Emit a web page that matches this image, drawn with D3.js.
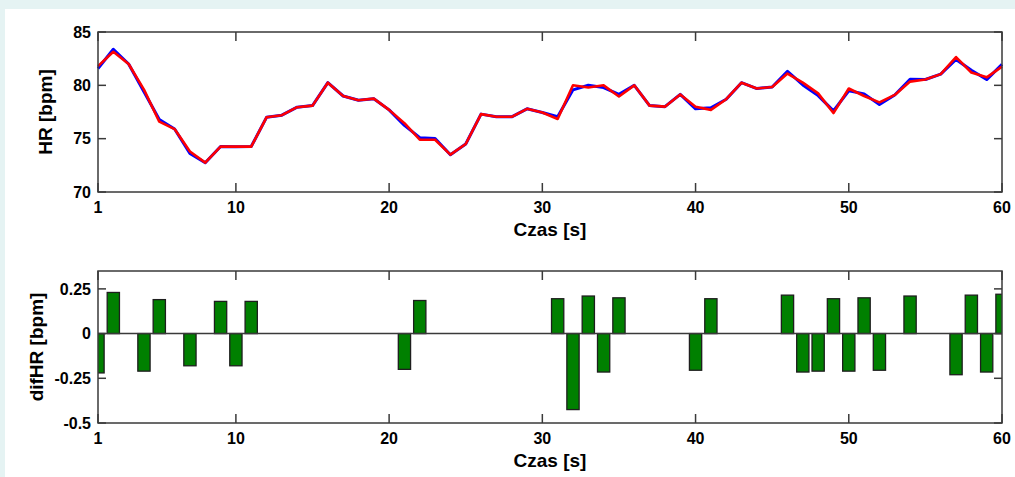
<!DOCTYPE html>
<html>
<head>
<meta charset="utf-8">
<script src="https://cdn.jsdelivr.net/npm/d3@7"></script>
<style>
  body { margin: 0; background: #e5f3f3; }
  svg { display: block; font-family: "Liberation Sans", Arial, sans-serif; }
</style>
</head>
<body>
<div id="vis"></div>
<script>
// seconds
const time = [1,2,3,4,5,6,7,8,9,10,11,12,13,14,15,16,17,18,19,20,
  21,22,23,24,25,26,27,28,29,30,31,32,33,34,35,36,37,38,39,40,
  41,42,43,44,45,46,47,48,49,50,51,52,53,54,55,56,57,58,59,60];

// HR, blue trace
const hrBlue = [81.58,83.38,82.0,79.39,76.79,75.9,73.62,72.75,74.27,74.25,
  74.27,77.0,77.2,77.95,78.1,80.25,79.0,78.6,78.75,77.7,
  76.25,75.09,75.02,73.5,74.5,77.3,77.05,77.05,77.8,77.45,
  77.05,79.58,80.01,79.79,79.15,80.0,78.1,78.0,79.15,77.8,
  77.9,78.7,80.25,79.7,79.85,81.32,80.04,79.04,77.6,79.49,
  79.2,78.2,79.1,80.56,80.55,81.05,82.42,81.42,80.54,81.97];

// HR, red trace
const hrRed = [81.8,83.15,82.0,79.6,76.6,75.9,73.8,72.75,74.25,74.25,
  74.25,77.0,77.2,77.95,78.1,80.25,79.0,78.6,78.75,77.7,
  76.45,74.9,74.9,73.5,74.5,77.3,77.05,77.05,77.8,77.45,
  76.85,80.0,79.8,80.0,78.95,80.0,78.1,78.0,79.15,78.0,
  77.7,78.7,80.25,79.7,79.85,81.1,80.25,79.25,77.4,79.7,
  79.0,78.4,79.1,80.35,80.55,81.05,82.65,81.2,80.75,81.75];

// difHR
const difHR = [-0.22,0.23,0,-0.21,0.19,0,-0.18,0,0.18,-0.18,
  0.18,0,0,0,0,0,0,0,0,0,
  -0.20,0.185,0,0,0,0,0,0,0,0,
  0.195,-0.425,0.21,-0.215,0.20,0,0,0,0,-0.205,
  0.195,0,0,0,0,0.215,-0.215,-0.21,0.195,-0.21,
  0.20,-0.205,0,0.21,0,0,-0.23,0.215,-0.215,0.22];

const xTicks = [1,10,20,30,40,50,60];
const hrTicks = [70,75,80,85];
const difTicks = [-0.5,-0.25,0,0.25];
const difTickLabels = ["-0.5","-0.25","0","0.25"];

const width = 1015, height = 477;
const left = 98, right = 1002;
const axisColor = "#3a3a3a";

const svg = d3.select("#vis").append("svg")
  .attr("width", width)
  .attr("height", height);

svg.append("rect")
  .attr("x", 5).attr("y", 9)
  .attr("width", width - 5).attr("height", height - 9)
  .attr("fill", "#fff");

const x = d3.scaleLinear().domain([1, 60]).range([left, right]);

function frame(g, y, top, bottom, yTicks, yFormat, yLabel, labelX){
  const tl = 9;
  // ticks inside, all four sides
  const xt = g.append("g");
  xt.selectAll("line.b").data(xTicks).join("line")
    .attr("x1", d => x(d)).attr("x2", d => x(d))
    .attr("y1", bottom).attr("y2", bottom - tl);
  xt.selectAll("line.t").data(xTicks, d => "t" + d).join("line")
    .attr("x1", d => x(d)).attr("x2", d => x(d))
    .attr("y1", top).attr("y2", top + tl);
  g.selectAll(".yl").data(yTicks).join("line")
    .attr("x1", left).attr("x2", left + 8)
    .attr("y1", d => y(d)).attr("y2", d => y(d));
  g.selectAll(".yr").data(yTicks).join("line")
    .attr("class", "yr")
    .attr("x1", right).attr("x2", right - 8)
    .attr("y1", d => y(d)).attr("y2", d => y(d));
  g.selectAll("line").attr("stroke", axisColor).attr("stroke-width", 1.5);

  g.append("rect")
    .attr("x", left).attr("y", top)
    .attr("width", right - left).attr("height", bottom - top)
    .attr("fill", "none").attr("stroke", axisColor).attr("stroke-width", 1.5);

  g.selectAll(".xtl").data(xTicks).join("text")
    .attr("class", "xtl")
    .attr("x", d => x(d)).attr("y", bottom + 21)
    .attr("text-anchor", "middle")
    .text(d => d);
  g.selectAll(".ytl").data(yTicks).join("text")
    .attr("class", "ytl")
    .attr("x", 91).attr("y", d => y(d))
    .attr("dy", "0.36em")
    .attr("text-anchor", "end")
    .text(yFormat);
  g.selectAll(".xtl, .ytl")
    .style("font-size", "16px").style("font-weight", "bold").style("fill", "#000");

  g.append("text")
    .attr("x", (left + right) / 2).attr("y", bottom + 44)
    .attr("text-anchor", "middle")
    .style("font-size", "19px").style("font-weight", "bold")
    .text("Czas [s]");
  g.append("text")
    .attr("transform", `translate(${labelX}, ${(top + bottom) / 2}) rotate(-90)`)
    .attr("text-anchor", "middle")
    .attr("dy", "0.35em")
    .style("font-size", "19px").style("font-weight", "bold")
    .text(yLabel);
}

// ---- top: HR ----
const top1 = 32, bot1 = 192;
const y1 = d3.scaleLinear().domain([70, 85]).range([bot1, top1]);
const g1 = svg.append("g");

const line = (vals) => d3.line()
  .x((d, i) => x(time[i]))
  .y(d => y1(d))(vals);

g1.append("path").attr("d", line(hrBlue))
  .attr("fill", "none").attr("stroke", "#0000ff").attr("stroke-width", 3)
  .attr("stroke-linejoin", "round");
g1.append("path").attr("d", line(hrRed))
  .attr("fill", "none").attr("stroke", "#ff0000").attr("stroke-width", 2.6)
  .attr("stroke-linejoin", "round");

frame(g1, y1, top1, bot1, hrTicks, d => d, "HR [bpm]", 45);

// ---- bottom: difHR ----
const top2 = 271, bot2 = 423;
const y2 = d3.scaleLinear().domain([-0.5, 0.35]).range([bot2, top2]);
const g2 = svg.append("g");

svg.append("clipPath").attr("id", "clip2")
  .append("rect").attr("x", left).attr("y", top2)
  .attr("width", right - left).attr("height", bot2 - top2);

const bw = (x(2) - x(1)) * 0.8;
const bars = time.map((t, i) => ({t, v: difHR[i]})).filter(d => d.v !== 0);

g2.append("g").attr("clip-path", "url(#clip2)")
  .selectAll("rect").data(bars).join("rect")
  .attr("x", d => x(d.t) - bw / 2)
  .attr("y", d => y2(Math.max(0, d.v)))
  .attr("width", bw)
  .attr("height", d => Math.abs(y2(d.v) - y2(0)))
  .attr("fill", "#008000")
  .attr("stroke", "#1e1e1e")
  .attr("stroke-width", 1.3);

g2.append("line")
  .attr("x1", left).attr("x2", right)
  .attr("y1", y2(0)).attr("y2", y2(0))
  .attr("stroke", axisColor).attr("stroke-width", 1.3);

frame(g2, y2, top2, bot2, difTicks, (d, i) => difTickLabels[i], "difHR [bpm]", 36);
</script>
</body>
</html>
